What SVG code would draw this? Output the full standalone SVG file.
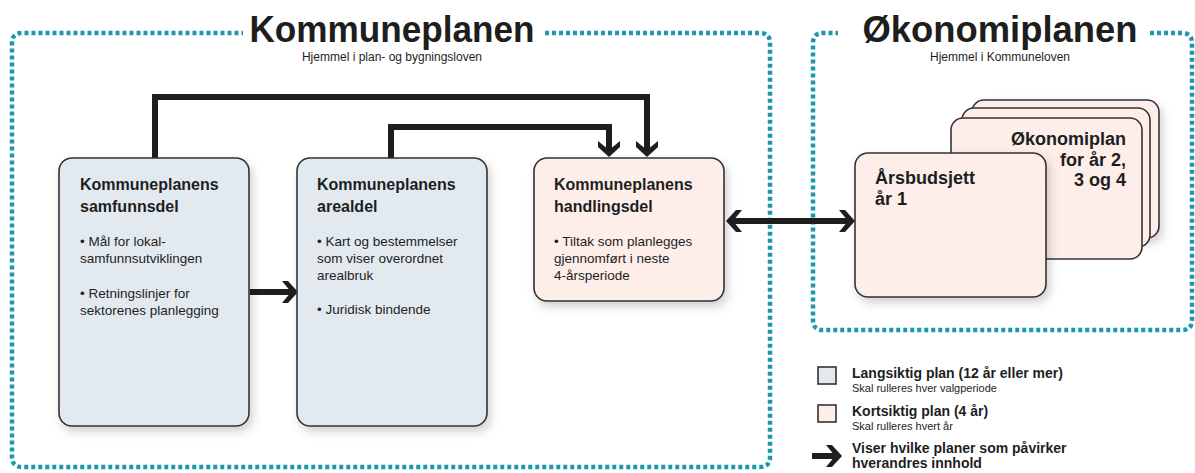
<svg xmlns="http://www.w3.org/2000/svg" width="1195" height="473" viewBox="0 0 1195 473">
<defs>
<filter id="sh" x="-20%" y="-20%" width="150%" height="150%">
<feDropShadow dx="3" dy="5" stdDeviation="5" flood-color="#000" flood-opacity="0.18"/>
</filter>
<marker id="ah" viewBox="-16 -12 18 24" markerUnits="userSpaceOnUse" markerWidth="18" markerHeight="24" refX="-5" refY="0" orient="auto-start-reverse">
<polygon points="1,0 -9,-11 -15,-11 -6,0 -15,11 -9,11" fill="#1e1e1e"/>
</marker>
<style>
.frame{fill:none;stroke:#1b98ae;stroke-width:4.5;stroke-dasharray:4 3}
.blue{fill:#e2eaf0;stroke:#333;stroke-width:1.6}
.pink{fill:#fdeeea;stroke:#333;stroke-width:1.6}
.conn{fill:none;stroke:#1e1e1e;stroke-width:6}
.big{font-family:"Liberation Sans",Arial,sans-serif;font-weight:bold;fill:#1e1e1e}
.sub{font-family:"Liberation Sans",Arial,sans-serif;font-size:12px;fill:#1e1e1e}
.h{font-family:"Liberation Sans",Arial,sans-serif;font-weight:bold;font-size:16px;fill:#1e1e1e}
.h2{font-family:"Liberation Sans",Arial,sans-serif;font-weight:bold;font-size:18px;fill:#1e1e1e}
.b{font-family:"Liberation Sans",Arial,sans-serif;font-size:13.5px;fill:#1e1e1e}
.lg{font-family:"Liberation Sans",Arial,sans-serif;font-weight:bold;font-size:14px;fill:#1e1e1e}
.ls{font-family:"Liberation Sans",Arial,sans-serif;font-size:11px;fill:#1e1e1e}
</style>
</defs>
<rect width="1195" height="473" fill="#fff"/>

<g id="kommuneplanen-frame">
<path class="frame" d="M545,33 H760 Q770,33 770,43 V457 Q770,467 760,467 H22 Q12,467 12,457 V43 Q12,33 22,33 H243"/>
<text class="big" x="392" y="42" font-size="37" text-anchor="middle" textLength="285" lengthAdjust="spacingAndGlyphs">Kommuneplanen</text>
<text class="sub" x="392" y="61" text-anchor="middle">Hjemmel i plan- og bygningsloven</text>
</g>

<g id="okonomiplanen-frame">
<path class="frame" d="M1150,33 H1182 Q1192,33 1192,43 V320 Q1192,330 1182,330 H823 Q813,330 813,320 V43 Q813,33 823,33 H838"/>
<text class="big" x="1000" y="42" font-size="37" text-anchor="middle" textLength="275" lengthAdjust="spacingAndGlyphs">Økonomiplanen</text>
<text class="sub" x="1000" y="61" text-anchor="middle">Hjemmel i Kommuneloven</text>
</g>

<g id="connectors">
<path class="conn" d="M155,158 V97 H647 V151" marker-end="url(#ah)"/>
<path class="conn" d="M391,158 V127 H609 V151" marker-end="url(#ah)"/>
<path class="conn" d="M250,292 H292" marker-end="url(#ah)"/>
<path class="conn" d="M732,221 H849" marker-start="url(#ah)" marker-end="url(#ah)"/>
</g>

<g id="samfunnsdel">
<rect class="blue" x="59" y="158" width="190" height="268" rx="13" filter="url(#sh)"/>
<text class="h" x="80" y="190">Kommuneplanens</text>
<text class="h" x="80" y="212">samfunnsdel</text>
<text class="b" x="80" y="246">• Mål for lokal-</text>
<text class="b" x="80" y="263">samfunnsutviklingen</text>
<text class="b" x="80" y="298">• Retningslinjer for</text>
<text class="b" x="80" y="315">sektorenes planlegging</text>
</g>

<g id="arealdel">
<rect class="blue" x="297" y="158" width="190" height="268" rx="13" filter="url(#sh)"/>
<text class="h" x="317" y="190">Kommuneplanens</text>
<text class="h" x="317" y="212">arealdel</text>
<text class="b" x="317" y="246">• Kart og bestemmelser</text>
<text class="b" x="317" y="263">som viser overordnet</text>
<text class="b" x="317" y="280">arealbruk</text>
<text class="b" x="317" y="314">• Juridisk bindende</text>
</g>

<g id="handlingsdel">
<rect class="pink" x="534" y="158" width="190" height="143" rx="13" filter="url(#sh)"/>
<text class="h" x="554" y="190">Kommuneplanens</text>
<text class="h" x="554" y="212">handlingsdel</text>
<text class="b" x="554" y="246">• Tiltak som planlegges</text>
<text class="b" x="554" y="263">gjennomført i neste</text>
<text class="b" x="554" y="280">4-årsperiode</text>
</g>

<g id="okonomiplan">
<rect class="pink" x="972" y="100" width="187" height="138" rx="12" filter="url(#sh)"/>
<rect class="pink" x="962" y="108" width="188" height="139" rx="12"/>
<rect class="pink" x="951" y="118" width="191" height="141" rx="12"/>
<text class="h2" x="1126" y="145" text-anchor="end">Økonomiplan</text>
<text class="h2" x="1126" y="166" text-anchor="end">for år 2,</text>
<text class="h2" x="1126" y="186" text-anchor="end">3 og 4</text>
</g>

<g id="arsbudsjett">
<rect class="pink" x="855" y="153" width="191" height="144" rx="13" filter="url(#sh)"/>
<text class="h2" x="875" y="184">Årsbudsjett</text>
<text class="h2" x="875" y="205">år 1</text>
</g>

<g id="legend">
<rect class="blue" x="818" y="367" width="18" height="17" stroke-width="2"/>
<text class="lg" x="852" y="378">Langsiktig plan (12 år eller mer)</text>
<text class="ls" x="852" y="392">Skal rulleres hver valgperiode</text>
<rect class="pink" x="818" y="405" width="18" height="17" stroke-width="2"/>
<text class="lg" x="852" y="416">Kortsiktig plan (4 år)</text>
<text class="ls" x="852" y="430">Skal rulleres hvert år</text>
<path class="conn" d="M812,456 H836" marker-end="url(#ah)"/>
<text class="lg" x="852" y="453">Viser hvilke planer som påvirker</text>
<text class="lg" x="852" y="468">hverandres innhold</text>
</g>
</svg>
